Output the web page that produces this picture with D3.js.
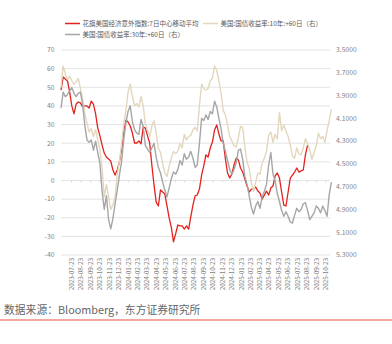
<!DOCTYPE html>
<html>
<head>
<meta charset="utf-8">
<script src="https://cdn.jsdelivr.net/npm/d3@7/dist/d3.min.js"></script>
<style>
  html, body { margin: 0; padding: 0; background: #fff; }
  svg { display: block; font-family: "Noto Sans CJK SC", "Noto Sans", sans-serif; }
</style>
</head>
<body>
<svg id="chart" width="392" height="344"></svg>
<script>
// Weekly observations, first week starting 2023-06-19
const firstWeek = "2023-06-19";

// 花旗美国经济意外指数:7日中心移动平均 (left axis)
const surpriseIndex = [
  48.5,55.5,54.4,53.4,47.5,40.0,35.7,41.0,42.1,41.6,
  39.4,40.0,40.0,38.9,42.6,41.0,35.7,28.1,23.9,19.0,
  14.7,12.6,11.5,10.4,5.6,2.9,5.6,9.9,16.3,26.0,
  32.4,31.4,29.2,25.5,20.1,20.1,21.2,19.6,28.7,28.1,
  23.9,20.1,8.3,-2.4,-11.6,-13.7,-5.1,-6.2,-7.3,-13.7,
  -20.1,-25.0,-33.0,-28.7,-23.9,-24.4,-24.4,-26.1,-24.4,-26.1,
  -19.6,-13.2,-8.3,-7.8,-4.6,2.9,7.8,13.7,12.6,17.4,
  20.6,27.1,29.8,24.9,21.2,21.2,11.5,4.0,1.3,3.5,
  8.3,12.0,11.0,6.7,4.5,0.8,-3.0,-6.2,-4.6,-4.6,
  -3.5,-5.7,-6.7,-10.0,-7.8,-5.7,-7.8,-4.1,-3.0,2.4,
  4.0,1.3,-6.2,-13.2,-13.7,-6.2,1.3,2.9,4.5,6.7,
  4.5,5.1,5.6,13.7,19.0
];

// 美国:国债收益率:10年:+60日 (right axis, reversed)
const yield10y = [
  3.83,3.64,3.71,3.76,3.73,3.77,3.80,3.78,3.75,3.84,
  3.93,4.06,4.14,4.22,4.19,4.26,4.20,4.29,4.38,4.54,
  4.79,4.68,4.79,4.90,4.86,4.79,4.59,4.48,4.33,4.15,
  4.03,3.87,3.80,3.91,3.99,3.97,4.00,3.91,3.99,4.15,
  4.21,4.26,4.17,4.12,4.23,4.36,4.40,4.50,4.58,4.61,
  4.52,4.45,4.39,4.41,4.39,4.32,4.36,4.24,4.29,4.26,
  4.25,4.20,4.18,4.21,3.99,3.80,3.84,3.85,3.84,3.77,
  3.75,3.64,3.68,3.77,3.88,4.03,4.07,4.16,4.26,4.30,
  4.34,4.35,4.27,4.17,4.18,4.35,4.48,4.54,4.66,4.74,
  4.66,4.58,4.59,4.49,4.45,4.39,4.25,4.22,4.31,4.24,
  4.28,4.05,4.21,4.16,4.21,4.26,4.33,4.43,4.45,4.36,
  4.41,4.42,4.36,4.28,4.32,4.38,4.46,4.40,4.34,4.23,
  4.28,4.26,4.31,4.21,4.12,4.02
];

// 美国:国债收益率:30年:+60日 (right axis, reversed)
const yield30y = [
  4.01,3.87,3.91,3.89,3.86,3.83,3.88,3.91,3.88,3.87,
  3.98,4.16,4.29,4.31,4.29,4.38,4.30,4.40,4.50,4.74,
  4.90,4.78,4.99,5.07,4.98,4.85,4.73,4.60,4.48,4.29,
  4.14,4.04,3.99,4.13,4.20,4.23,4.24,4.11,4.17,4.34,
  4.37,4.40,4.36,4.32,4.44,4.53,4.58,4.66,4.73,4.79,
  4.71,4.63,4.57,4.59,4.55,4.47,4.51,4.41,4.46,4.44,
  4.39,4.45,4.53,4.51,4.32,4.10,4.12,4.07,4.11,4.04,
  4.06,3.95,4.00,4.10,4.19,4.32,4.39,4.47,4.55,4.59,
  4.55,4.49,4.38,4.37,4.46,4.61,4.68,4.78,4.88,4.94,
  4.87,4.83,4.89,4.79,4.74,4.68,4.51,4.40,4.59,4.65,
  4.76,4.83,4.91,4.96,4.92,4.96,5.01,5.02,4.95,4.89,
  4.92,4.90,4.85,4.84,4.91,4.99,4.96,4.93,4.87,4.89,
  4.93,4.87,4.91,4.96,4.77,4.66
];

const xTickLabels = [
  "2023-07-23","2023-08-23","2023-09-23","2023-10-23","2023-11-23","2023-12-23",
  "2024-01-23","2024-02-23","2024-03-23","2024-04-23","2024-05-23","2024-06-23",
  "2024-07-23","2024-08-23","2024-09-23","2024-10-23","2024-11-23","2024-12-23",
  "2025-01-23","2025-02-23","2025-03-23","2025-04-23","2025-05-23","2025-06-23",
  "2025-07-23","2025-08-23","2025-09-23","2025-10-23"
];
const leftTicks = [70, 60, 50, 40, 30, 20, 10, 0, -10, -20, -30, -40];
const rightTicks = [3.5, 3.7, 3.9, 4.1, 4.3, 4.5, 4.7, 4.9, 5.1, 5.3];

const seriesNames = [
  "花旗美国经济意外指数:7日中心移动平均",
  "美国:国债收益率:10年:+60日（右）",
  "美国:国债收益率:30年:+60日（右）"
];
const sourceNote = "数据来源：Bloomberg，东方证券研究所";

const colors = { red: "#e3221e", beige: "#e3d7bd", gray: "#a6a6a6" };

const parse = d3.timeParse("%Y-%m-%d");
const start = parse(firstWeek);
const weekDate = i => d3.timeDay.offset(start, 7 * i);

const svg = d3.select("#chart");
const plot = { left: 61, right: 332, top: 50, bottom: 255 };

const x = d3.scaleTime()
  .domain([start, parse("2025-11-12")])
  .range([plot.left, plot.right]);
const yL = d3.scaleLinear().domain([-40, 70]).range([plot.bottom, plot.top]);
const yR = d3.scaleLinear().domain([3.5, 5.3]).range([plot.top, plot.bottom]);

// gridlines on the left-axis ticks
svg.append("g").selectAll("line").data(leftTicks).join("line")
  .attr("x1", plot.left).attr("x2", 330)
  .attr("y1", d => yL(d)).attr("y2", d => yL(d))
  .attr("stroke", "#dcdcdc").attr("stroke-width", 0.8);

// left axis labels
svg.append("g").selectAll("text").data(leftTicks).join("text")
  .attr("x", 54.5).attr("y", d => yL(d)).attr("dy", "0.35em")
  .attr("text-anchor", "end").attr("font-size", 6.8).attr("fill", "#7f7f7f")
  .text(d => d);

// right axis labels
const fmtR = d3.format(".4f");
svg.append("g").selectAll("text").data(rightTicks).join("text")
  .attr("x", 336).attr("y", d => yR(d)).attr("dy", "0.35em")
  .attr("text-anchor", "start").attr("font-size", 6.8).attr("fill", "#7f7f7f")
  .text(d => fmtR(d));

// category axis sits on the zero line, labels at the bottom
const tickDates = xTickLabels.map(parse);
svg.append("g").selectAll("line").data(tickDates).join("line")
  .attr("x1", d => x(d)).attr("x2", d => x(d))
  .attr("y1", yL(0)).attr("y2", yL(0) + 2)
  .attr("stroke", "#c8c8c8").attr("stroke-width", 0.6);

svg.append("g").selectAll("text").data(xTickLabels).join("text")
  .attr("transform", d => `translate(${x(parse(d))},258) rotate(-90)`)
  .attr("dy", "0.35em")
  .attr("text-anchor", "end").attr("font-size", 6.3).attr("fill", "#7f7f7f")
  .text(d => d);

// series
const lineL = d3.line().x((d, i) => x(weekDate(i))).y(d => yL(d));
const lineR = d3.line().x((d, i) => x(weekDate(i))).y(d => yR(d));

svg.append("path").datum(surpriseIndex)
  .attr("d", lineL).attr("fill", "none")
  .attr("stroke", colors.red).attr("stroke-width", 1.3).attr("stroke-linejoin", "round");
svg.append("path").datum(yield10y)
  .attr("d", lineR).attr("fill", "none")
  .attr("stroke", colors.beige).attr("stroke-width", 1.4).attr("stroke-linejoin", "round");
svg.append("path").datum(yield30y)
  .attr("d", lineR).attr("fill", "none")
  .attr("stroke", colors.gray).attr("stroke-width", 1.4).attr("stroke-linejoin", "round");

// legend
const legend = [
  { name: seriesNames[0], color: colors.red, x: 65, y: 23.5 },
  { name: seriesNames[1], color: colors.beige, x: 203, y: 23.5 },
  { name: seriesNames[2], color: colors.gray, x: 65, y: 34.5 }
];
const lg = svg.append("g").selectAll("g").data(legend).join("g")
  .attr("transform", d => `translate(${d.x},${d.y})`);
lg.append("line").attr("x1", 0).attr("x2", 15).attr("y1", 0).attr("y2", 0)
  .attr("stroke", d => d.color).attr("stroke-width", 1.5);
lg.append("text").attr("x", 17.5).attr("dy", "0.35em")
  .attr("font-size", 6.5).attr("fill", "#595959")
  .text(d => d.name);

// source note and rule
svg.append("text").attr("x", 4).attr("y", 314)
  .attr("font-size", 10.8).attr("fill", "#666")
  .text(sourceNote);
svg.append("line").attr("x1", 0).attr("x2", 392).attr("y1", 320).attr("y2", 320)
  .attr("stroke", "#ef8a80").attr("stroke-width", 1.4);
</script>
</body>
</html>
